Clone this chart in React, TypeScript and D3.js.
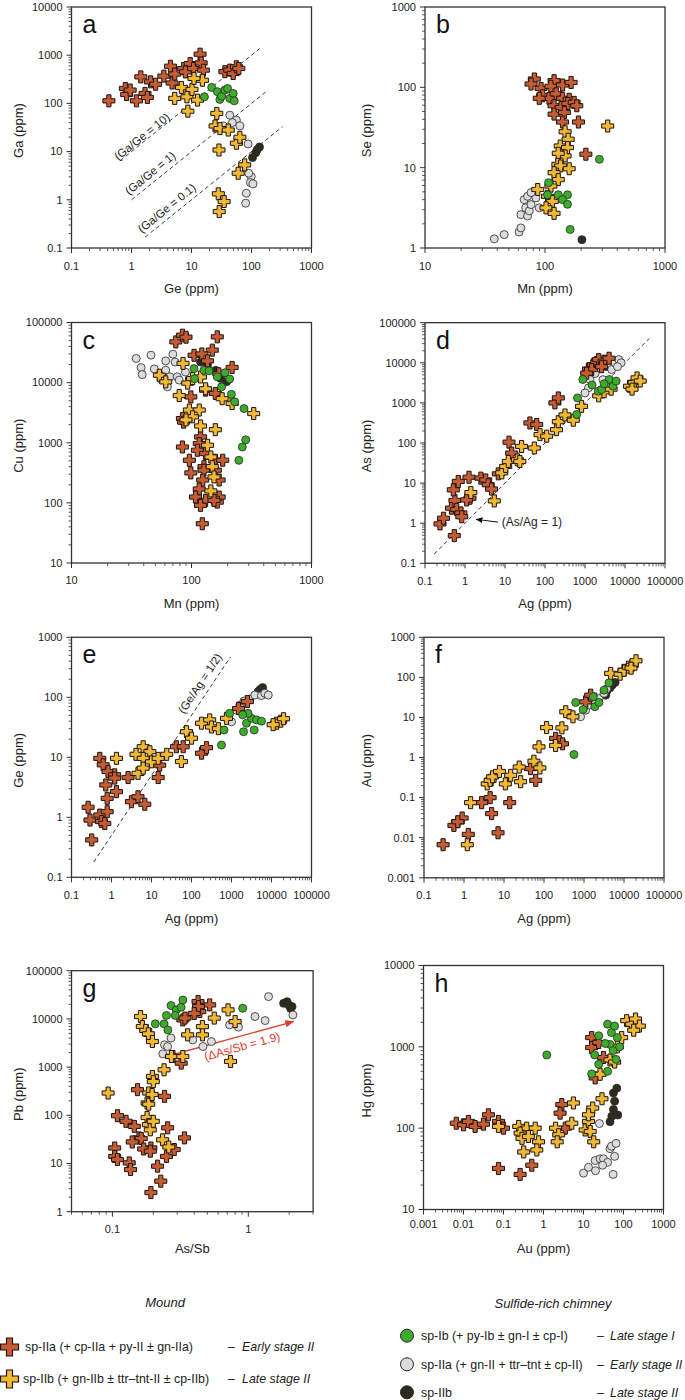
import React from 'react';
import * as d3 from 'd3';

type Pt = [number, number];

// ---------------- DATA ----------------
// Panel a: Ge (x) vs Ga (y)
const aEarly: Pt[] = [[0.42,113],[0.79,204],[0.83,153],[0.95,189],[1.21,113],[1.43,355],[1.68,161],[1.84,133],[2.08,280],[2.52,250],[3.46,368],[4.46,590],[4.75,265],[5.26,406],[7.4,528],[7.9,450],[9.5,670],[10.8,528],[13.9,1050],[14.5,690],[15.8,490],[36,455],[43.5,490],[49.5,418],[56,575],[61.5,530]];
const aLate: Pt[] = [[5.25,127],[6.8,214],[8.4,137],[8.7,69],[10.2,195],[12.6,117],[15.2,302],[11,330],[26.4,62],[24.7,34],[29.8,30],[41,28],[28.7,10.8],[56,14.9],[64,19.8],[77,5.3],[60,3.56],[28,1.33],[35,0.92],[29,0.57]];
const aGreen: Pt[] = [[16.4,137],[21.7,215],[27,175],[29.7,121],[31.8,141],[36,189],[40,204],[43.5,127],[49.5,161],[51.5,113]];
const aGray: Pt[] = [[43.5,57],[56,45],[64,34],[33.8,34],[48,40],[87.6,14.4],[99,3.04],[95.7,2.28],[82,1.37],[80,0.85],[106,2.14],[90,3.56]];
const aDark: Pt[] = [[104,7.5],[118,9.5],[136,12.5],[125,11]];

// Panel b: Mn (x) vs Se (y)
const bEarly: Pt[] = [[81.5,127],[76.5,110],[92.7,97],[119,121],[112,103],[140,107],[165,115],[95.6,78.6],[108,73],[89.6,73],[124,83],[140,73],[159,71],[119,59],[136,56],[155,63],[175,65],[184,59],[119,46.4],[145,48.7],[140,37],[190,37],[219,14.7]];
const bLate: Pt[] = [[333,33],[147,28],[156,22.6],[134,18.6],[154,17.8],[147,14],[129,15.1],[128,11],[135,10.5],[159,9.7],[119,8.66],[129,7.1],[112,5.9],[87,5.35],[105,4.4],[115,3.8],[102,3.16],[119,2.7]];
const bGreen: Pt[] = [[284,12.7],[107,6.5],[105,4.6],[129,4.6],[154,4.6],[140,4.0],[154,3.5],[162,1.7]];
const bGray: Pt[] = [[37.8,1.3],[45.7,1.47],[60.8,1.58],[63,1.78],[63,2.6],[71.6,2.5],[69,3.16],[74,2.9],[76.5,3.47],[67,4.0],[71.6,4.4],[84,4.2],[89.6,3.16],[76.5,4.9]];
const bDark: Pt[] = [[203,1.27]];

// Panel c: Mn (x) vs Cu (y)
const cEarly: Pt[] = [[74,47600],[84,61500],[90,57000],[164,57700],[149,34700],[105,28500],[122,30000],[136,23000],[218,17900],[169,14000],[98.7,5790],[131,7500],[158,6600],[84,2520],[86,2200],[119,1250],[116,970],[84,850],[96,512],[112,750],[131,660],[127,400],[158,512],[182,512],[98.7,315],[127,350],[158,350],[170,240],[124,240],[116,170],[108,125],[131,110],[170,125],[164,103],[119,91],[123,45],[154,110]];
const cLate: Pt[] = [[54,13300],[61,10300],[85,20900],[93,9800],[102,11700],[119,12400],[131,7900],[180,5400],[218,4500],[79,6100],[96,3500],[116,3500],[102,2700],[90,2400],[119,1900],[158,1650],[136,908],[145,580],[149,400],[154,270],[145,158],[330,3060]];
const cGreen: Pt[] = [[105,17100],[106,11600],[127,16100],[140,15700],[164,12500],[178,8500],[190,14600],[208,11500],[215,6400],[229,4800],[274,3700],[283,1120],[265,850],[248,510]];
const cGray: Pt[] = [[34.6,25200],[38,17800],[38.8,13600],[46,28600],[49,16900],[61,23000],[61,16100],[63,8500],[70,29700],[73,22000],[66,12500],[76,12500],[79,11000],[89,15000],[55.6,11500]];
const cDark: Pt[] = [[119,22000],[136,19500],[159,16000],[175,11700],[196,10300]];

// Panel d: Ag (x) vs As (y)
const dEarly: Pt[] = [[0.237,0.96],[0.29,1.33],[0.46,2.37],[0.56,3.7],[0.62,2.2],[0.68,11],[0.51,6.8],[0.79,1.8],[0.83,1.45],[1.26,14],[1.33,4.2],[1.1,3.8],[2.5,13.3],[3.3,12],[3.8,9.1],[4.6,7.1],[6.8,17],[12.6,105],[14.7,56],[42,316],[62,290],[177,1000],[215,1330],[1220,7000],[1620,9000],[1960,10200],[1470,6800],[0.54,0.49],[2200,12000],[3000,11000],[2600,8000],[4000,13000],[1100,5500]];
const dLate: Pt[] = [[1.4,5.8],[5.4,3.6],[8.3,18],[10.4,26],[12.1,34.6],[20.4,38],[26,82],[23.5,34.6],[54,75],[75,162],[110,148],[194,215],[215,340],[316,500],[510,370],[820,820],[2200,1500],[3000,1900],[4500,2200],[13000,2600],[17000,3200],[20000,4200],[15000,2200],[24000,3500]];
const dGreen: Pt[] = [[620,515],[650,1330],[880,3830],[2150,1960],[2600,2150],[4040,3830],[3000,3000],[5000,2600],[6000,3500],[1500,2800]];
const dGray: Pt[] = [[1330,3830],[1780,5400],[3830,9000],[2800,3800],[1220,2370],[1000,1770],[4640,6800],[5600,10000],[7000,12000],[8000,10000],[6500,8000]];
const dDark: Pt[] = [[3500,8000],[4000,9500],[4500,7500]];

// Panel e: Ag (x) vs Ge (y)
const eEarly: Pt[] = [[0.26,1.47],[0.32,0.42],[0.29,0.9],[0.51,1.09],[0.56,0.85],[0.68,0.79],[0.78,1.24],[0.51,9.6],[0.62,7.5],[0.82,5.8],[1.2,5.1],[1.2,4.5],[0.72,3.46],[0.78,2.07],[1.33,2.68],[2.6,4.6],[3.16,1.82],[4.6,2.2],[6.8,1.65],[14.7,4.6],[16,7.4],[42,15],[62,15],[178,11.7],[237,14.5],[1500,65],[2500,85]];
const eLate: Pt[] = [[1.33,9.6],[4.1,11.2],[6.2,15],[9.1,12.4],[6.2,9.6],[4.6,5.4],[6.2,6.6],[10,8.4],[14.7,9.6],[24,11.2],[56,8.5],[75,26.7],[100,20.8],[178,37],[285,42],[316,32],[470,30],[750,44.6],[13300,37],[17000,40],[20000,44],[11000,35]];
const eGreen: Pt[] = [[562,16],[650,28.5],[900,54],[2000,26.7],[2370,37],[3160,44.6],[3690,28.5],[4200,42],[5600,40],[2600,54],[1900,51]];
const eGray: Pt[] = [[1000,39],[1330,61],[1620,74],[2050,86.6],[2850,93.6],[3830,109],[5600,107],[6800,117],[8300,109]];
const eDark: Pt[] = [[4640,125],[6000,145],[5200,135]];

// Panel f: Ag (x) vs Au (y)
const fEarly: Pt[] = [[0.30,0.0067],[0.56,0.0203],[0.9,0.031],[0.7,0.025],[1.28,0.0121],[2.76,0.075],[4.5,0.1],[4.9,0.04],[7.1,0.0133],[13.9,0.075],[46,0.53],[62,0.27],[195,3.0],[240,2.5],[290,2.2],[1100,24.5],[1470,36]];
const fLate: Pt[] = [[1.21,0.0067],[1.46,0.075],[3.8,0.22],[4.5,0.27],[5.2,0.33],[7.7,0.45],[10.8,0.22],[14.7,0.36],[24,0.58],[26,0.25],[56,0.81],[79,0.55],[75,1.85],[116,5.6],[280,5.5],[195,2.0],[350,13.9],[530,10.4],[4640,126],[8000,120],[10000,150],[13000,180],[16000,200],[20000,260],[15000,170]];
const fGreen: Pt[] = [[562,1.19],[620,23.7],[950,15.8],[1870,18.6],[2370,23.7],[1710,33],[3160,48],[4200,73]];
const fGray: Pt[] = [[820,10.4],[1100,15.2],[1330,20.4],[1780,24.5],[2370,29.7],[3160,40],[3690,52]];
const fDark: Pt[] = [[3830,48],[5100,65],[3500,36],[6000,75],[4500,55]];

// Panel g: As/Sb (x) vs Pb (y)
const gEarly: Pt[] = [[0.109,98],[0.126,75],[0.145,59],[0.104,21],[0.104,14],[0.109,12.1],[0.133,10.3],[0.136,7.5],[0.157,34],[0.163,33],[0.192,21],[0.153,340],[0.242,247],[0.255,55],[0.215,8.8],[0.227,4.3],[0.192,2.5],[0.25,14],[0.285,19.5],[0.339,34],[0.279,1660],[0.321,1210],[0.33,9530],[0.342,10400],[0.427,22900],[0.44,14200],[0.52,19500],[0.43,18000],[0.40,13000],[0.14,28],[0.17,20],[0.19,18]];
const gLate: Pt[] = [[0.093,290],[0.161,11200],[0.166,6940],[0.176,5760],[0.184,4900],[0.197,3400],[0.272,1660],[0.33,1660],[0.358,4670],[0.46,6940],[0.46,4670],[0.562,10400],[0.71,15400],[0.80,8800],[0.74,1310],[0.197,640],[0.2,500],[0.24,880],[0.185,290],[0.18,180],[0.185,170],[0.196,270],[0.18,90],[0.184,64],[0.19,50],[0.234,31],[0.26,22],[0.2,75]];
const gGreen: Pt[] = [[0.207,7900],[0.27,18900],[0.295,15400],[0.32,17400],[0.33,24700],[0.29,11800],[0.25,11800],[0.24,7900],[0.256,5900],[0.91,16600]];
const gGray: Pt[] = [[0.242,2900],[0.27,4000],[0.235,1880],[0.255,2670],[0.39,3670],[0.464,2670],[0.535,3390],[0.73,7500],[0.847,6760],[1.12,11200],[1.33,9230],[1.41,29000],[2.13,12100]];
const gDark: Pt[] = [[1.82,21100],[1.98,19500],[2.1,18000],[1.93,22800],[2.05,16500]];

// Panel h: Au (x) vs Hg (y)
const hEarly: Pt[] = [[0.0066,115],[0.01,110],[0.0133,121],[0.0195,105],[0.0316,112],[0.042,146],[0.075,121],[0.1,100],[0.075,32],[0.26,27],[0.51,35],[2.87,195],[2.6,153],[3.5,100],[16,1300],[16,980],[24,1130],[31.6,740],[19.6,415]];
const hLate: Pt[] = [[0.075,105],[0.24,105],[0.38,100],[0.62,100],[0.26,87],[0.29,75],[0.42,79],[0.32,51],[0.75,68],[0.68,54],[2.0,100],[2.4,83],[2.2,68],[5.6,204],[5.1,115],[11,95],[13.3,121],[14.7,91],[17,177],[13.3,146],[18,68],[29,230],[46,690],[26,460],[120,2100],[160,1900],[200,2200],[250,1800],[180,1600],[90,1300],[70,1000],[60,650]];
const hGreen: Pt[] = [[1.21,795],[19,795],[16,465],[24,610],[24,1370],[40,1900],[50,1500],[46,1070],[60,1800],[70,1300],[55,900],[65,700],[40,500],[80,1000],[35,1100]];
const hGray: Pt[] = [[10,28],[13.3,33],[19.6,40],[26,42],[31.6,42],[46,56],[25,114],[55,27],[60,45],[50,60],[65,65],[40,38],[30,35],[20,30]];
const hDark: Pt[] = [[56,270],[60,215],[56,170],[51,140],[46,120],[68,310],[72,145]];

// Tick labels
const ticksA_x = ['0.1','1','10','100','1000'];
const ticksA_y = ['0.1','1','10','100','1000','10000'];
const ticksB_x = ['10','100','1000'];
const ticksB_y = ['1','10','100','1000'];
const ticksC_x = ['10','100','1000'];
const ticksC_y = ['10','100','1000','10000','100000'];
const ticksAg_x = ['0.1','1','10','100','1000','10000','100000'];
const ticksD_y = ['0.1','1','10','100','1000','10000','100000'];
const ticksE_y = ['0.1','1','10','100','1000'];
const ticksF_y = ['0.001','0.01','0.1','1','10','100','1000'];
const ticksG_x = ['0.1','1'];
const domainG_x = [0.05, 3];
const ticksG_y = ['1','10','100','1000','10000','100000'];
const ticksH_x = ['0.001','0.01','0.1','1','10','100','1000'];
const ticksH_y = ['10','100','1000','10000'];

// Annotation values
const aRatios = [10, 1, 0.1];
const aRatioRange: Pt[] = [[0.65, 143], [1.0, 190], [1.69, 330]];
const aRatioLabels = ['(Ga/Ge = 10)', '(Ga/Ge = 1)', '(Ga/Ge = 0.1)'];
const aRatioLabelPos: Pt[] = [[1.49, 20.4], [2.05, 3.57], [3.86, 0.67]];
const dLineRange: Pt = [0.17, 40000];
const eLineRange: Pt = [0.36, 940];
const gArrow: Pt[] = [[0.249, 1660], [2.15, 8800]];
const gArrowLabelPos: Pt = [0.9, 2700];

// ---------------- STYLE ----------------
const FONT = "'Liberation Sans', Arial, Helvetica, sans-serif";
const C = { early: '#c65c33', late: '#f1b834', green: '#3dac2a', gray: '#dcdcdc', dark: '#2d2c1e' };
const AX = '#333';

function crossPath(s: number, w: number) {
  const a = s / 2, b = w / 2;
  return `M${-b},${-a}H${b}V${-b}H${a}V${b}H${b}V${a}H${-b}V${b}H${-a}V${-b}H${-b}Z`;
}
const CROSS = crossPath(12, 4.2);

function logTicks(d0: number, d1: number) {
  const majors: number[] = [], minors: number[] = [];
  const lo = Math.floor(Math.log10(d0)), hi = Math.ceil(Math.log10(d1));
  for (let e = lo; e <= hi; e++) {
    for (let k = 1; k < 10; k++) {
      const v = +(k * Math.pow(10, e)).toPrecision(6);
      if (v < d0 * 0.9999 || v > d1 * 1.0001) continue;
      if (k === 1) majors.push(v); else minors.push(v);
    }
  }
  return { majors, minors };
}

type Spec = {
  letter: string; left: number; top: number; width: number; height: number;
  xDomain: number[]; yDomain: number[]; xTicks: string[]; yTicks: string[];
  xTitle: string; yTitle: string; yTitleX: number; tickOff: number; titleOff: number;
  early: Pt[]; late: Pt[]; green: Pt[]; gray: Pt[]; dark: Pt[];
  extra?: (x: any, y: any) => any;
};

function Panel({ s }: { s: Spec }) {
  const x = d3.scaleLog().domain(s.xDomain).range([s.left, s.left + s.width]);
  const y = d3.scaleLog().domain(s.yDomain).range([s.top + s.height, s.top]);
  const xt = logTicks(s.xDomain[0], s.xDomain[1]);
  const yt = logTicks(s.yDomain[0], s.yDomain[1]);
  const bottom = s.top + s.height;
  const circ = (pts: Pt[], fill: string, k: string) =>
    pts.map((p, i) => <circle key={k + i} cx={x(p[0])} cy={y(p[1])} r={4} fill={fill} stroke="#2a2a2a" strokeWidth={0.8} />);
  const cross = (pts: Pt[], fill: string, k: string) =>
    pts.map((p, i) => <path key={k + i} d={CROSS} transform={`translate(${x(p[0])},${y(p[1])})`} fill={fill} stroke="#1e1410" strokeWidth={1} strokeLinejoin="miter" />);
  return (
    <g>
      {/* ticks */}
      {xt.majors.map((v, i) => <line key={'xM' + i} x1={x(v)} x2={x(v)} y1={bottom} y2={bottom + 5} stroke={AX} strokeWidth={1} />)}
      {xt.minors.map((v, i) => <line key={'xm' + i} x1={x(v)} x2={x(v)} y1={bottom} y2={bottom + 3} stroke={AX} strokeWidth={0.8} />)}
      {yt.majors.map((v, i) => <line key={'yM' + i} x1={s.left - 5} x2={s.left} y1={y(v)} y2={y(v)} stroke={AX} strokeWidth={1} />)}
      {yt.minors.map((v, i) => <line key={'ym' + i} x1={s.left - 3} x2={s.left} y1={y(v)} y2={y(v)} stroke={AX} strokeWidth={0.8} />)}
      {s.xTicks.map((t) => <text key={'xl' + t} x={x(+t)} y={bottom + s.tickOff} dy="0.35em" textAnchor="middle" fontSize={11} fill="#222">{t}</text>)}
      {s.yTicks.map((t) => <text key={'yl' + t} x={s.left - 9} y={y(+t)} dy="0.35em" textAnchor="end" fontSize={11} fill="#222">{t}</text>)}
      <text x={s.left + s.width / 2} y={bottom + s.titleOff} dy="0.35em" textAnchor="middle" fontSize={13} fill="#222">{s.xTitle}</text>
      <text transform={`translate(${s.yTitleX},${s.top + s.height / 2 + 3}) rotate(-90)`} dy="0.35em" textAnchor="middle" fontSize={13} fill="#222">{s.yTitle}</text>
      {s.extra ? s.extra(x, y) : null}
      {circ(s.dark, C.dark, 'dk')}
      {circ(s.gray, C.gray, 'gy')}
      {cross(s.early, C.early, 'ea')}
      {cross(s.late, C.late, 'la')}
      {circ(s.green, C.green, 'gr')}
      <rect x={s.left} y={s.top} width={s.width} height={s.height} fill="none" stroke={AX} strokeWidth={1.3} />
      <text x={s.left + 11} y={s.top + 26} fontSize={25} fill="#111">{s.letter}</text>
    </g>
  );
}

function angleOf(x1: number, y1: number, x2: number, y2: number) {
  return (Math.atan2(y2 - y1, x2 - x1) * 180) / Math.PI;
}

const extraA = (x: any, y: any) => (
  <g>
    {aRatios.map((r, i) => {
      const [g0, g1] = aRatioRange[i];
      const X1 = x(g0), Y1 = y(g0 * r), X2 = x(g1), Y2 = y(g1 * r);
      const ang = angleOf(X1, Y1, X2, Y2);
      const [lx, ly] = aRatioLabelPos[i];
      return (
        <g key={'r' + i}>
          <line x1={X1} y1={Y1} x2={X2} y2={Y2} stroke="#222" strokeWidth={0.9} strokeDasharray="4,3" />
          <text transform={`translate(${x(lx)},${y(ly)}) rotate(${ang})`} dy="0.35em" textAnchor="middle" fontSize={11.5} fill="#222">{aRatioLabels[i]}</text>
        </g>
      );
    })}
  </g>
);

const extraD = (x: any, y: any) => (
  <g>
    <line x1={x(dLineRange[0])} y1={y(dLineRange[0])} x2={x(dLineRange[1])} y2={y(dLineRange[1])} stroke="#222" strokeWidth={0.9} strokeDasharray="4,3" />
    <line x1={x(6.7)} y1={y(1.06)} x2={x(1.9)} y2={y(1.25)} stroke="#111" strokeWidth={1} markerEnd="url(#arrBlk)" />
    <text x={x(8.3)} y={y(1.06)} dy="0.35em" fontSize={12} fill="#222">(As/Ag = 1)</text>
  </g>
);

const extraE = (x: any, y: any) => {
  const X1 = x(eLineRange[0]), Y1 = y(eLineRange[0] / 2), X2 = x(eLineRange[1]), Y2 = y(eLineRange[1] / 2);
  const ang = angleOf(X1, Y1, X2, Y2);
  return (
    <g>
      <line x1={X1} y1={Y1} x2={X2} y2={Y2} stroke="#222" strokeWidth={0.9} strokeDasharray="4,3" />
      <text transform={`translate(${x(162)},${y(171)}) rotate(${ang})`} dy="0.35em" textAnchor="middle" fontSize={11.5} fill="#222">(Ge/Ag = 1/2)</text>
    </g>
  );
};

const extraG = (x: any, y: any) => {
  const X1 = x(gArrow[0][0]), Y1 = y(gArrow[0][1]), X2 = x(gArrow[1][0]), Y2 = y(gArrow[1][1]);
  const ang = angleOf(X1, Y1, X2, Y2);
  return (
    <g>
      <line x1={X1} y1={Y1} x2={X2} y2={Y2} stroke="#d9412c" strokeWidth={1.4} markerEnd="url(#arrRed)" />
      <text transform={`translate(${x(gArrowLabelPos[0])},${y(gArrowLabelPos[1])}) rotate(${ang})`} dy="0.35em" textAnchor="middle" fontSize={12} fill="#d9412c">(ΔAs/Sb = 1.9)</text>
    </g>
  );
};

const L = 71.5, R = 425, PW = 240;
const specs: Spec[] = [
  { letter: 'a', left: L, top: 7, width: PW, height: 241, xDomain: [0.1, 1000], yDomain: [0.1, 10000], xTicks: ticksA_x, yTicks: ticksA_y, xTitle: 'Ge (ppm)', yTitle: 'Ga (ppm)', yTitleX: 18, tickOff: 18, titleOff: 40, early: aEarly, late: aLate, green: aGreen, gray: aGray, dark: aDark, extra: extraA },
  { letter: 'b', left: R, top: 7, width: PW, height: 241, xDomain: [10, 1000], yDomain: [1, 1000], xTicks: ticksB_x, yTicks: ticksB_y, xTitle: 'Mn (ppm)', yTitle: 'Se (ppm)', yTitleX: 366, tickOff: 18, titleOff: 40, early: bEarly, late: bLate, green: bGreen, gray: bGray, dark: bDark },
  { letter: 'c', left: L, top: 322.5, width: PW, height: 240.5, xDomain: [10, 1000], yDomain: [10, 100000], xTicks: ticksC_x, yTicks: ticksC_y, xTitle: 'Mn (ppm)', yTitle: 'Cu (ppm)', yTitleX: 18, tickOff: 17.5, titleOff: 40, early: cEarly, late: cLate, green: cGreen, gray: cGray, dark: cDark },
  { letter: 'd', left: R, top: 322.7, width: PW, height: 240.6, xDomain: [0.1, 100000], yDomain: [0.1, 100000], xTicks: ticksAg_x, yTicks: ticksD_y, xTitle: 'Ag (ppm)', yTitle: 'As (ppm)', yTitleX: 366, tickOff: 17.5, titleOff: 40, early: dEarly, late: dLate, green: dGreen, gray: dGray, dark: dDark, extra: extraD },
  { letter: 'e', left: L, top: 637.3, width: PW, height: 240, xDomain: [0.1, 100000], yDomain: [0.1, 1000], xTicks: ticksAg_x, yTicks: ticksE_y, xTitle: 'Ag (ppm)', yTitle: 'Ge (ppm)', yTitleX: 18, tickOff: 17.5, titleOff: 41, early: eEarly, late: eLate, green: eGreen, gray: eGray, dark: eDark, extra: extraE },
  { letter: 'f', left: R - 1, top: 637.3, width: PW, height: 240.5, xDomain: [0.1, 100000], yDomain: [0.001, 1000], xTicks: ticksAg_x, yTicks: ticksF_y, xTitle: 'Ag (ppm)', yTitle: 'Au (ppm)', yTitleX: 366, tickOff: 17.5, titleOff: 41, early: fEarly, late: fLate, green: fGreen, gray: fGray, dark: fDark },
  { letter: 'g', left: L, top: 970.7, width: 241.6, height: 241, xDomain: domainG_x, yDomain: [1, 100000], xTicks: ticksG_x, yTicks: ticksG_y, xTitle: 'As/Sb', yTitle: 'Pb (ppm)', yTitleX: 18, tickOff: 17, titleOff: 37, early: gEarly, late: gLate, green: gGreen, gray: gGray, dark: gDark, extra: extraG },
  { letter: 'h', left: R - 1.5, top: 965.5, width: PW, height: 244, xDomain: [0.001, 1000], yDomain: [10, 10000], xTicks: ticksH_x, yTicks: ticksH_y, xTitle: 'Au (ppm)', yTitle: 'Hg (ppm)', yTitleX: 366, tickOff: 14.5, titleOff: 38.5, early: hEarly, late: hLate, green: hGreen, gray: hGray, dark: hDark },
];

// Legend
const moundItems = ['sp-IIa (+ cp-IIa + py-II ± gn-IIa)', 'sp-IIb (+ gn-IIb ± ttr–tnt-II ± cp-IIb)'];
const moundStages = ['Early stage II', 'Late stage II'];
const chimItems = ['sp-Ib (+ py-Ib ± gn-I ± cp-I)', 'sp-IIa (+ gn-II + ttr–tnt ± cp-II)', 'sp-IIb'];
const chimStages = ['Late stage I', 'Early stage II', 'Late stage II'];

function Legend() {
  const crossBig = crossPath(18, 6);
  const mY = [1347, 1379];
  const cY = [1335.7, 1364.3, 1392.3];
  const mFill = [C.early, C.late];
  const cFill = [C.green, C.gray, C.dark];
  return (
    <g fill="#222">
      <text x={165} y={1302} dy="0.35em" textAnchor="middle" fontSize={13} fontStyle="italic">Mound</text>
      {moundItems.map((t, i) => (
        <g key={'m' + i}>
          <path d={crossBig} transform={`translate(9.5,${mY[i]})`} fill={mFill[i]} stroke="#1e1410" strokeWidth={1.2} />
          <text x={i === 0 ? 25 : 23} y={mY[i]} dy="0.35em" fontSize={12.4}>{t}</text>
          <text x={228} y={mY[i]} dy="0.35em" fontSize={12.4}>–</text>
          <text x={242} y={mY[i]} dy="0.35em" fontSize={12.4} fontStyle="italic">{moundStages[i]}</text>
        </g>
      ))}
      <text x={553} y={1303} dy="0.35em" textAnchor="middle" fontSize={13} fontStyle="italic">Sulfide-rich chimney</text>
      {chimItems.map((t, i) => (
        <g key={'c' + i}>
          <circle cx={407} cy={cY[i]} r={6.5} fill={cFill[i]} stroke="#222" strokeWidth={1} />
          <text x={421} y={cY[i]} dy="0.35em" fontSize={12.4}>{t}</text>
          <text x={597} y={cY[i]} dy="0.35em" fontSize={12.4}>–</text>
          <text x={610} y={cY[i]} dy="0.35em" fontSize={12.4} fontStyle="italic">{chimStages[i]}</text>
        </g>
      ))}
    </g>
  );
}

export default function App() {
  return (
    <svg width={685} height={1400} style={{ position: 'absolute', left: 0, top: 0, background: '#fff' }} fontFamily={FONT}>
      <defs>
        <marker id="arrRed" viewBox="0 0 10 10" refX="9" refY="5" markerWidth={9} markerHeight={9} markerUnits="userSpaceOnUse" orient="auto">
          <path d="M0,1L10,5L0,9Z" fill="#d9412c" />
        </marker>
        <marker id="arrBlk" viewBox="0 0 10 10" refX="9" refY="5" markerWidth={7} markerHeight={7} markerUnits="userSpaceOnUse" orient="auto">
          <path d="M0,1L10,5L0,9Z" fill="#111" />
        </marker>
      </defs>
      <rect x={0} y={0} width={685} height={1400} fill="#fff" />
      {specs.map((s) => <Panel key={s.letter} s={s} />)}
      <Legend />
    </svg>
  );
}
